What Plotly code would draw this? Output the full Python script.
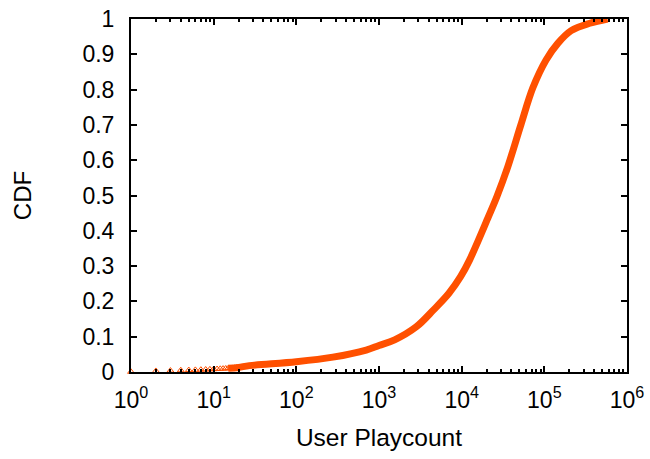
import plotly.graph_objects as go

# Low-end discrete playcounts (individually visible triangles)
low_playcount = [1, 2, 3, 4, 5, 6, 7, 8, 9, 10, 11, 12, 13, 14, 15, 16, 17, 18, 19, 20]
low_cdf = [0.0005, 0.003, 0.004, 0.005, 0.0055, 0.006, 0.0065, 0.007, 0.0075, 0.008,
           0.0085, 0.009, 0.0095, 0.010, 0.0105, 0.011, 0.0115, 0.012, 0.0125, 0.013]

# Main CDF curve (dense band)
playcount = [15, 20, 27, 100, 277, 700, 1000, 1545, 2825, 4570, 7015, 9700, 12450,
             21100, 26700, 36200, 52000, 72600, 105000, 145500, 211000, 355000, 582000]
cdf = [0.0105, 0.013, 0.018, 0.029, 0.042, 0.062, 0.075, 0.091, 0.128, 0.176, 0.223, 0.27,
       0.317, 0.44, 0.497, 0.582, 0.70, 0.805, 0.884, 0.931, 0.967, 0.988, 1.0]

x_tickvals = [1, 10, 100, 1000, 10000, 100000, 1000000]
x_ticktext = ["10<sup>0</sup>", "10<sup>1</sup>", "10<sup>2</sup>", "10<sup>3</sup>",
              "10<sup>4</sup>", "10<sup>5</sup>", "10<sup>6</sup>"]
y_tickvals = [0, 0.1, 0.2, 0.3, 0.4, 0.5, 0.6, 0.7, 0.8, 0.9, 1]
y_ticktext = ["0", "0.1", "0.2", "0.3", "0.4", "0.5", "0.6", "0.7", "0.8", "0.9", "1"]

color = "#ff5000"
font_family = "Liberation Sans, Arial, sans-serif"

fig = go.Figure()
fig.add_trace(go.Scatter(
    x=playcount, y=cdf, mode="lines",
    line=dict(color=color, width=7, shape="spline", smoothing=1),
    showlegend=False, hoverinfo="skip",
))
fig.add_trace(go.Scatter(
    x=low_playcount, y=low_cdf, mode="markers",
    marker=dict(symbol="triangle-up-open", size=6, color=color, line=dict(width=1, color=color)),
    cliponaxis=False, showlegend=False,
))

fig.update_layout(
    width=650, height=459,
    margin=dict(l=131, r=23, t=19, b=87),
    paper_bgcolor="white", plot_bgcolor="white",
    font=dict(family=font_family, size=23, color="black"),
    xaxis=dict(
        type="log", range=[0, 6], automargin=False,
        tickvals=x_tickvals, ticktext=x_ticktext,
        ticks="inside", ticklen=6, tickwidth=1.5, tickcolor="black",
        showline=True, linecolor="black", linewidth=2, mirror="ticks",
        showgrid=False, zeroline=False,
        ticklabelstandoff=6, ticklabeloverflow="allow",
        minor=dict(ticks="inside", ticklen=3, tickwidth=1.5, tickcolor="black",
                   dtick="D1", showgrid=False),
        title=dict(text="User Playcount", font=dict(size=24.5), standoff=17),
    ),
    yaxis=dict(
        range=[0, 1], automargin=False,
        tickvals=y_tickvals, ticktext=y_ticktext,
        ticks="inside", ticklen=6, tickwidth=1.5, tickcolor="black",
        showline=True, linecolor="black", linewidth=2, mirror="ticks",
        showgrid=False, zeroline=False,
        ticklabelstandoff=10, ticklabeloverflow="allow",
        title=dict(text="CDF", font=dict(size=24), standoff=44),
    ),
)

# remove the default 8px page margin so the figure fills the window exactly
fig.write_html("out.html", config={"displayModeBar": False},
               post_script="document.body.style.margin='0';")
